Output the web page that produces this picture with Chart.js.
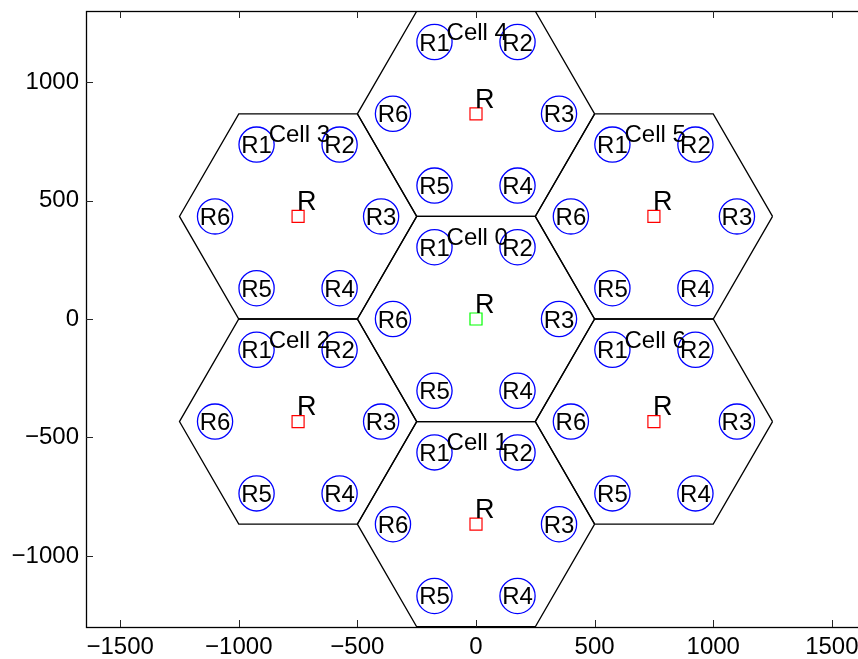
<!DOCTYPE html>
<html>
<head>
<meta charset="utf-8">
<style>
  html, body { margin: 0; padding: 0; overflow: hidden; background: #fff; }
  canvas { display: block; }
</style>
<script src="https://cdn.jsdelivr.net/npm/chart.js@4.4.0/dist/chart.umd.min.js"></script>
</head>
<body>
<canvas id="c" width="880" height="659"></canvas>
<script>
// Seven-cell hexagonal layout: cell centres (base stations)
const cellNames = ['Cell 0', 'Cell 1', 'Cell 2', 'Cell 3', 'Cell 4', 'Cell 5', 'Cell 6'];
const cellX = [0, 0, -750, -750, 0, 750, 750];
const cellY = [0, -866, -433, 433, 866, 433, -433];

// Hexagon corners relative to a cell centre (closed ring)
const hexDx = [500, 250, -250, -500, -250, 250, 500];
const hexDy = [0, 433, 433, 0, -433, -433, 0];

// Relay stations relative to a cell centre
const relayNames = ['R1', 'R2', 'R3', 'R4', 'R5', 'R6'];
const relayDx = [-175, 175, 350, 175, -175, -350];
const relayDy = [303, 303, 0, -303, -303, 0];

// Axis ticks
const xTicks = [-1500, -1000, -500, 0, 500, 1000, 1500];
const yTicks = [-1000, -500, 0, 500, 1000];

const FONT = '"Liberation Sans", Arial, Helvetica, sans-serif';
const fmt = v => String(v).replace('-', '\u2212');

const hexDatasets = cellX.map((cx, c) => ({
  data: hexDx.map((dx, i) => ({ x: cx + dx, y: cellY[c] + hexDy[i] })),
  showLine: true,
  borderColor: '#000',
  borderWidth: 1.3,
  pointRadius: 0,
  fill: false
}));

const relayPoints = [];
cellX.forEach((cx, c) => {
  relayDx.forEach((dx, r) => {
    relayPoints.push({ x: cx + dx, y: cellY[c] + relayDy[r], c, r });
  });
});

const relayDataset = {
  data: relayPoints,
  showLine: false,
  pointStyle: 'circle',
  pointRadius: 17.6,
  pointBorderWidth: 1.3,
  pointBorderColor: '#0000ff',
  pointBackgroundColor: 'rgba(0,0,0,0)'
};

const baseDataset = {
  data: cellX.map((cx, c) => ({ x: cx, y: cellY[c] })),
  showLine: false,
  pointStyle: 'rect',
  pointRadius: 8.5,
  pointBorderWidth: 1.2,
  pointBorderColor: cellX.map((_, c) => (c === 0 ? '#00ff00' : '#ff0000')),
  pointBackgroundColor: 'rgba(0,0,0,0)'
};

// Axis box with inward tick marks, plus the text annotations
const annotate = {
  id: 'annotate',
  afterDatasetsDraw(chart) {
    const { ctx, chartArea: a, scales: { x, y } } = chart;
    ctx.save();

    // relay names
    ctx.fillStyle = '#000';
    ctx.textAlign = 'center';
    ctx.textBaseline = 'alphabetic';
    ctx.font = '24px ' + FONT;
    relayPoints.forEach(p => {
      ctx.fillText(relayNames[p.r], x.getPixelForValue(p.x), y.getPixelForValue(p.y) + 8.5);
    });

    // base station marker "R"
    ctx.textAlign = 'left';
    ctx.font = '27px ' + FONT;
    cellX.forEach((cx, c) => {
      ctx.fillText('R', x.getPixelForValue(cx) - 1, y.getPixelForValue(cellY[c] + 26));
    });

    // cell names
    ctx.font = '24px ' + FONT;
    cellX.forEach((cx, c) => {
      ctx.fillText(cellNames[c], x.getPixelForValue(cx - 124), y.getPixelForValue(cellY[c] + 312));
    });

    // axes box
    ctx.strokeStyle = '#000';
    ctx.lineWidth = 1.3;
    ctx.strokeRect(a.left + 0.5, a.top + 0.5, a.right - a.left, a.bottom - a.top);

    // inward ticks
    const tl = 7;
    ctx.lineWidth = 1;
    ctx.strokeStyle = '#262626';
    ctx.beginPath();
    xTicks.forEach(v => {
      const px = Math.round(x.getPixelForValue(v)) + 0.5;
      ctx.moveTo(px, a.bottom); ctx.lineTo(px, a.bottom - tl);
      ctx.moveTo(px, a.top); ctx.lineTo(px, a.top + tl);
    });
    yTicks.forEach(v => {
      const py = Math.round(y.getPixelForValue(v)) + 0.5;
      ctx.moveTo(a.left, py); ctx.lineTo(a.left + tl, py);
      ctx.moveTo(a.right, py); ctx.lineTo(a.right - tl, py);
    });
    ctx.stroke();
    ctx.restore();
  }
};

new Chart(document.getElementById('c'), {
  type: 'scatter',
  data: { datasets: [...hexDatasets, relayDataset, baseDataset] },
  options: {
    responsive: false,
    animation: false,
    devicePixelRatio: 1,
    events: [],
    layout: { autoPadding: false, padding: { top: 11, right: 14, left: 0, bottom: 0 } },
    plugins: { legend: { display: false }, tooltip: { enabled: false } },
    scales: {
      x: {
        type: 'linear',
        position: 'bottom',
        min: -1644,
        max: 1644,
        afterBuildTicks: s => { s.ticks = xTicks.map(v => ({ value: v })); },
        afterFit: s => { s.height = 32; s.paddingLeft = 0; s.paddingRight = 0; },
        grid: { display: false, drawTicks: false },
        border: { display: false },
        ticks: {
          autoSkip: false, maxRotation: 0, minRotation: 0, padding: 6,
          color: '#000', font: { family: FONT, size: 24 },
          callback: v => fmt(v)
        }
      },
      y: {
        type: 'linear',
        position: 'left',
        min: -1300,
        max: 1300,
        afterBuildTicks: s => { s.ticks = yTicks.map(v => ({ value: v })); },
        afterFit: s => { s.width = 86; s.paddingTop = 0; s.paddingBottom = 0; },
        grid: { display: false, drawTicks: false },
        border: { display: false },
        ticks: {
          autoSkip: false, padding: 7,
          color: '#000', font: { family: FONT, size: 24 },
          callback: v => fmt(v)
        }
      }
    }
  },
  plugins: [annotate]
});
</script>
</body>
</html>
